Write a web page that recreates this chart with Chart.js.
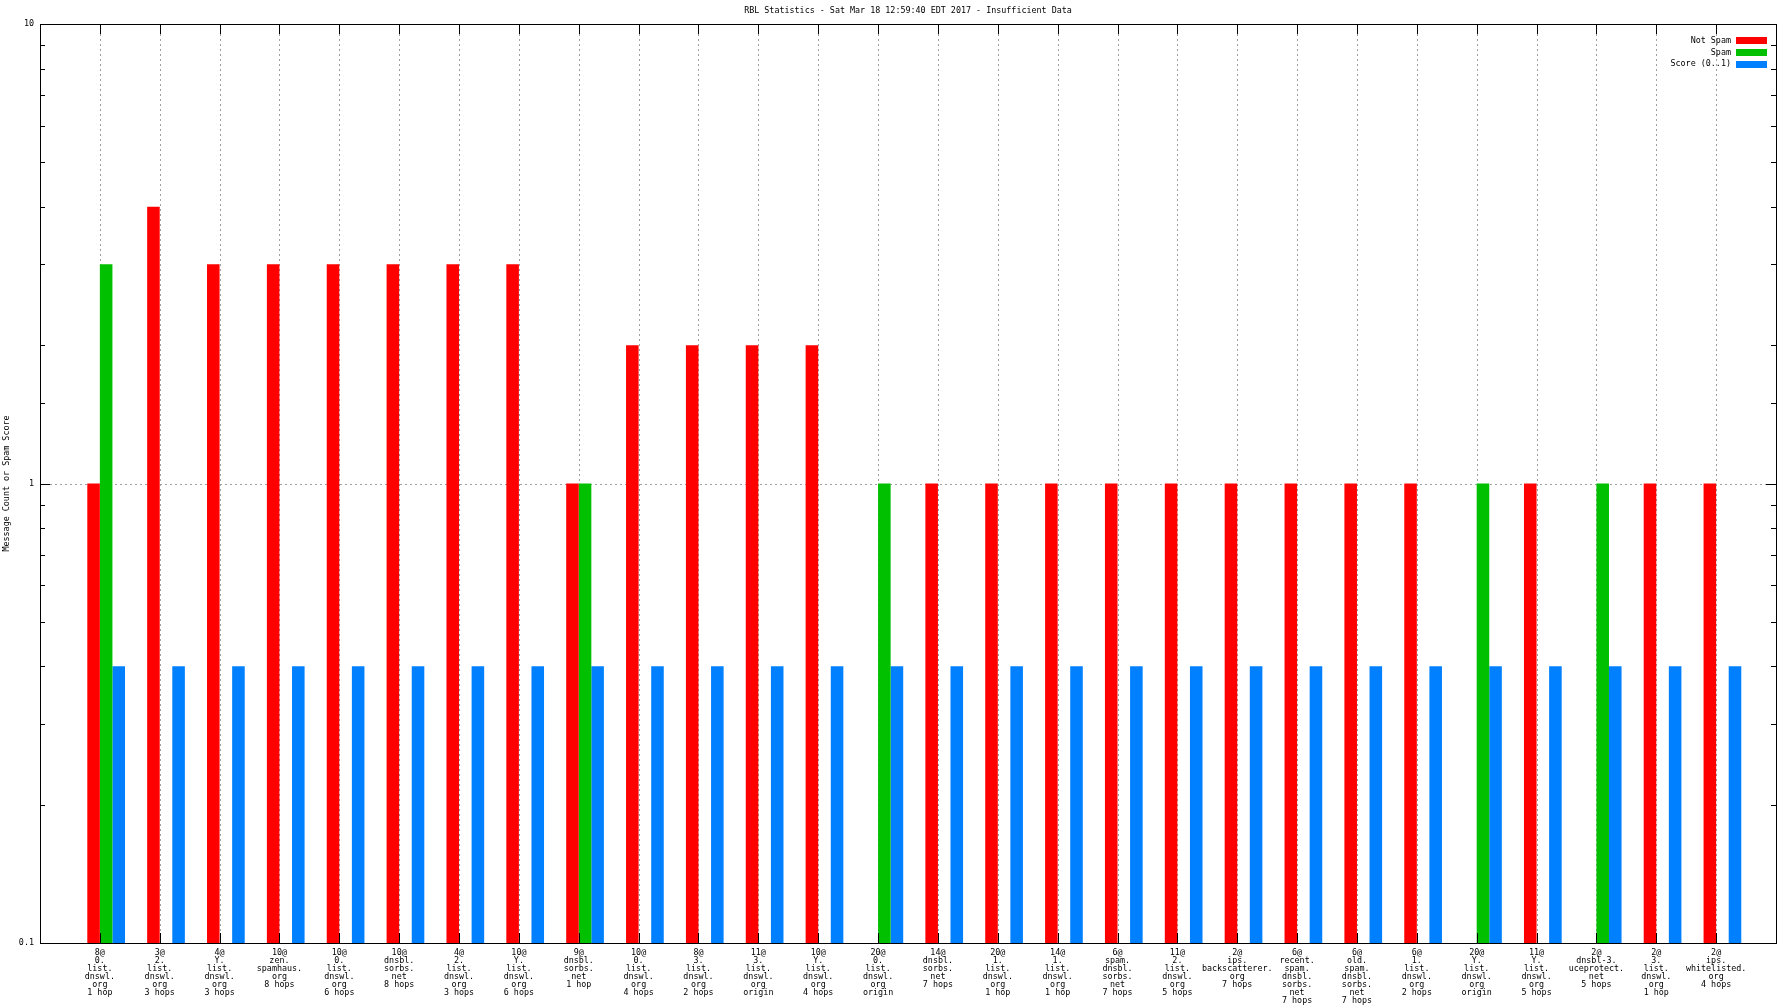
<!DOCTYPE html>
<html>
<head>
<meta charset="utf-8">
<title>RBL Statistics</title>
<script src="https://cdn.jsdelivr.net/npm/chart.js@4.4.0/dist/chart.umd.min.js"></script>
<style>
  html, body { margin: 0; padding: 0; background: #fff; }
  #wrap { width: 1792px; height: 1008px; }
</style>
</head>
<body>
<div id="wrap"><canvas id="rblChart"></canvas></div>
<script>
const categories = [
  "8@\n0.\nlist.\ndnswl.\norg\n1 hop",
  "3@\n2.\nlist.\ndnswl.\norg\n3 hops",
  "4@\nY.\nlist.\ndnswl.\norg\n3 hops",
  "10@\nzen.\nspamhaus.\norg\n8 hops",
  "10@\n0.\nlist.\ndnswl.\norg\n6 hops",
  "10@\ndnsbl.\nsorbs.\nnet\n8 hops",
  "4@\n2.\nlist.\ndnswl.\norg\n3 hops",
  "10@\nY.\nlist.\ndnswl.\norg\n6 hops",
  "9@\ndnsbl.\nsorbs.\nnet\n1 hop",
  "10@\n0.\nlist.\ndnswl.\norg\n4 hops",
  "8@\n3.\nlist.\ndnswl.\norg\n2 hops",
  "11@\n3.\nlist.\ndnswl.\norg\norigin",
  "10@\nY.\nlist.\ndnswl.\norg\n4 hops",
  "20@\n0.\nlist.\ndnswl.\norg\norigin",
  "14@\ndnsbl.\nsorbs.\nnet\n7 hops",
  "20@\n1.\nlist.\ndnswl.\norg\n1 hop",
  "14@\n1.\nlist.\ndnswl.\norg\n1 hop",
  "6@\nspam.\ndnsbl.\nsorbs.\nnet\n7 hops",
  "11@\n2.\nlist.\ndnswl.\norg\n5 hops",
  "2@\nips.\nbackscatterer.\norg\n7 hops",
  "6@\nrecent.\nspam.\ndnsbl.\nsorbs.\nnet\n7 hops",
  "6@\nold.\nspam.\ndnsbl.\nsorbs.\nnet\n7 hops",
  "6@\n1.\nlist.\ndnswl.\norg\n2 hops",
  "20@\nY.\nlist.\ndnswl.\norg\norigin",
  "11@\nY.\nlist.\ndnswl.\norg\n5 hops",
  "2@\ndnsbl-3.\nuceprotect.\nnet\n5 hops",
  "2@\n3.\nlist.\ndnswl.\norg\n1 hop",
  "2@\nips.\nwhitelisted.\norg\n4 hops"
];

const notSpam = [1, 4, 3, 3, 3, 3, 3, 3, 1, 2, 2, 2, 2, null, 1, 1, 1, 1, 1, 1, 1, 1, 1, null, 1, null, 1, 1];
const spam = [3, null, null, null, null, null, null, null, 1, null, null, null, null, 1, null, null, null, null, null, null, null, null, null, 1, null, 1, null, null];
const score = [0.4, 0.4, 0.4, 0.4, 0.4, 0.4, 0.4, 0.4, 0.4, 0.4, 0.4, 0.4, 0.4, 0.4, 0.4, 0.4, 0.4, 0.4, 0.4, 0.4, 0.4, 0.4, 0.4, 0.4, 0.4, 0.4, 0.4, 0.4];

const yTickLabels = ['0.1', '1', '10'];
const titleText = 'RBL Statistics - Sat Mar 18 12:59:40 EDT 2017 - Insufficient Data';
const yTitle = 'Message Count or Spam Score';

const FONT = '"DejaVu Sans Mono", "Liberation Mono", monospace';
const FSIZE = 8.4;

// one empty slot on each side so the ticks sit at 1..28 of a -1..28 style range
const pad = arr => [null, ...arr, null];
const labels = ['', ...categories, ''];

const frame = {
  id: 'frame',
  beforeDatasetsDraw(chart) {
    const { ctx, chartArea: a, scales: { x, y } } = chart;
    ctx.save();
    ctx.strokeStyle = '#a0a0a0';
    ctx.lineWidth = 1;
    ctx.setLineDash([2, 3]);
    ctx.beginPath();
    for (let i = 1; i <= categories.length; i++) {
      const px = Math.round(x.getPixelForValue(i)) + 0.5;
      ctx.moveTo(px, a.top);
      ctx.lineTo(px, a.bottom);
    }
    const py = Math.round(y.getPixelForValue(1)) + 0.5;
    ctx.moveTo(a.left, py);
    ctx.lineTo(a.right, py);
    ctx.stroke();
    ctx.restore();
  },
  afterDatasetsDraw(chart) {
    const { ctx, chartArea: a, scales: { x, y } } = chart;
    ctx.save();
    ctx.strokeStyle = '#000';
    ctx.lineWidth = 1;
    ctx.beginPath();
    // x tics, bottom and mirrored on top
    for (let i = 1; i <= categories.length; i++) {
      const px = Math.round(x.getPixelForValue(i)) + 0.5;
      ctx.moveTo(px, a.bottom); ctx.lineTo(px, a.bottom - 10);
      ctx.moveTo(px, a.top); ctx.lineTo(px, a.top + 10);
    }
    // y tics, major and minor, both sides
    y.ticks.forEach(t => {
      const e = Math.log10(t.value);
      const major = Math.abs(e - Math.round(e)) < 1e-6;
      const len = major ? 10 : 5;
      const py = Math.round(y.getPixelForValue(t.value)) + 0.5;
      ctx.moveTo(a.left, py); ctx.lineTo(a.left + len, py);
      ctx.moveTo(a.right, py); ctx.lineTo(a.right - len, py);
    });
    ctx.stroke();
    ctx.strokeRect(a.left + 0.5, a.top + 0.5, a.right - a.left, a.bottom - a.top);

    // key, gnuplot style: text right aligned, colour box to the right
    ctx.font = FSIZE + 'px ' + FONT;
    ctx.textAlign = 'right';
    ctx.textBaseline = 'middle';
    chart.data.datasets.slice(1).forEach((ds, i) => {
      const ry = a.top + 16.5 + i * 11.9;
      ctx.fillStyle = '#000';
      ctx.fillText(ds.label, a.right - 45, ry);
      ctx.fillStyle = ds.backgroundColor;
      ctx.fillRect(a.right - 40, Math.round(ry - 3.5), 31, 7);
    });
    ctx.restore();
  }
};

const ctx = document.getElementById('rblChart').getContext('2d');
new Chart(ctx, {
  type: 'bar',
  data: {
    labels: labels,
    datasets: [
      { label: '', data: pad(categories.map(() => null)), backgroundColor: 'rgba(0,0,0,0)' },
      { label: 'Not Spam', data: pad(notSpam), backgroundColor: '#ff0000' },
      { label: 'Spam', data: pad(spam), backgroundColor: '#00c000' },
      { label: 'Score (0..1)', data: pad(score), backgroundColor: '#0080ff' }
    ]
  },
  options: {
    responsive: true,
    maintainAspectRatio: false,
    animation: false,
    layout: { padding: { left: 0, right: 16, top: 0, bottom: 0 } },
    datasets: {
      bar: { barPercentage: 1, categoryPercentage: 0.84, borderWidth: 0 }
    },
    plugins: {
      legend: { display: false },
      tooltip: { enabled: false },
      title: {
        display: true,
        fullSize: false,
        text: titleText,
        color: '#000',
        font: { family: FONT, size: FSIZE, weight: 'normal', lineHeight: '8px' },
        padding: { top: 7, bottom: 9 }
      }
    },
    scales: {
      x: {
        type: 'category',
        offset: false,
        grid: { display: false },
        border: { display: false },
        afterFit: s => { s.height = 65; },
        ticks: {
          autoSkip: false,
          maxRotation: 0,
          minRotation: 0,
          padding: -2,
          color: '#000',
          font: { family: FONT, size: FSIZE, lineHeight: '8px' },
          callback: function (value) {
            return this.getLabelForValue(value).split('\n');
          }
        }
      },
      y: {
        type: 'logarithmic',
        min: 0.1,
        max: 10,
        grid: { display: false, drawTicks: false },
        border: { display: false },
        afterFit: s => { s.width = 40; },
        title: {
          display: true,
          text: yTitle,
          color: '#000',
          font: { family: FONT, size: FSIZE, lineHeight: '8px' },
          padding: { top: 3, bottom: 0 }
        },
        ticks: {
          autoSkip: false,
          padding: 6,
          color: '#000',
          font: { family: FONT, size: FSIZE, lineHeight: '8px' },
          callback: function (value) {
            const e = Math.log10(value);
            if (Math.abs(e - Math.round(e)) > 1e-6) return '';
            return yTickLabels[Math.round(e) + 1] || '';
          }
        }
      }
    }
  },
  plugins: [frame]
});
</script>
</body>
</html>
